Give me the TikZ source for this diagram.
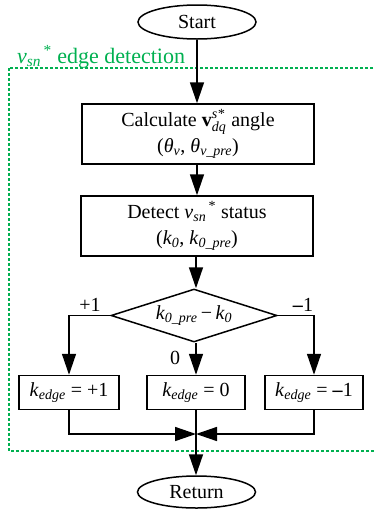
\documentclass[tikz,border=0pt]{standalone}
\usepackage{amsmath}
\usepackage{fontspec}
\setmainfont{Liberation Serif}
\usetikzlibrary{arrows.meta,shapes.geometric}
\definecolor{grn}{RGB}{0,176,80}
\newcommand{\vsn}{\textit{v}\textsubscript{\itshape sn}\textsuperscript{\,*}}
\newcommand{\mneg}{\textbf{–}}
\begin{document}
\begin{tikzpicture}[x=1pt,y=-1pt,
  every node/.style={font=\fontsize{20}{28}\selectfont, inner sep=0pt},
  arr/.style={line width=1.5pt,-{Triangle[length=21pt,width=14pt]}},
  box/.style={draw,line width=1.5pt,align=center},
  oval/.style={draw,ellipse,line width=1.5pt},
  lbl/.style={}]
\useasboundingbox (0,0) rectangle (373,509);
% group frame
\draw[grn,line width=1.4pt,dash pattern=on 3pt off 2pt] (9,68) rectangle (378,451);
\node[grn,anchor=base west,font=\fontsize{22}{26}\selectfont] (glbl) at (17,63) {\vsn{} edge detection};
% nodes
\node[oval,minimum width=118pt,minimum height=34pt] (start) at (197,22) {Start};
\node[box,minimum width=232pt,minimum height=60pt] (calc) at (198,134)
  {Calculate $\textbf{v}^{\text{\itshape s*}}_{\text{\itshape dq}}$ angle\\[-2pt]
   (\textit{θ}\textsubscript{\itshape v}, \textit{θ}\textsubscript{\itshape v\_pre})};
\node[box,minimum width=232pt,minimum height=60pt] (det) at (197,226)
  {Detect \vsn{} status\\[-2pt]
   (\textit{k}\textsubscript{\itshape 0}, \textit{k}\textsubscript{\itshape 0\_pre})};
\node[draw,diamond,line width=1.5pt,aspect=3.13,minimum width=166pt,minimum height=53pt] (dia) at (194,315.5)
  {\textit{k}\textsubscript{\itshape 0\_pre}\,−\,\textit{k}\textsubscript{\itshape 0}};
\node[box,minimum width=100pt,minimum height=34pt] (kp) at (69,392.5)
  {\textit{k}\textsubscript{\itshape edge} = +1};
\node[box,minimum width=98pt,minimum height=34pt] (kz) at (196,392.5)
  {\textit{k}\textsubscript{\itshape edge} = 0};
\node[box,minimum width=98pt,minimum height=34pt] (km) at (314,392.5)
  {\textit{k}\textsubscript{\itshape edge} = \mneg1};
\node[oval,minimum width=118pt,minimum height=32pt] (ret) at (196.5,492) {Return};
\coordinate (m) at (196,434);
% labels
\node[lbl] (lp) at (90,305) {+1};
\node[lbl] (lm) at (303,305) {\mneg1};
\node[lbl] (lz) at (175,358) {0};
% connectors
\draw[arr] (start.south -| 197,0) -- (calc.north -| 197,0);
\draw[arr] (calc.south -| 197,0) -- (det.north -| 197,0);
\draw[arr] (det.south -| 196,0) -- (dia.north -| 196,0);
\draw[arr] (dia.west) -| (kp.north);
\draw[arr] (dia.east) -| (km.north);
\draw[arr] (dia.south -| 196,0) -- (kz.north);
\draw[arr] (kp.south) |- (m);
\draw[arr] (km.south) |- (m);
\draw[arr] (kz.south) -- (ret.north -| 196,0);
\end{tikzpicture}
\end{document}
